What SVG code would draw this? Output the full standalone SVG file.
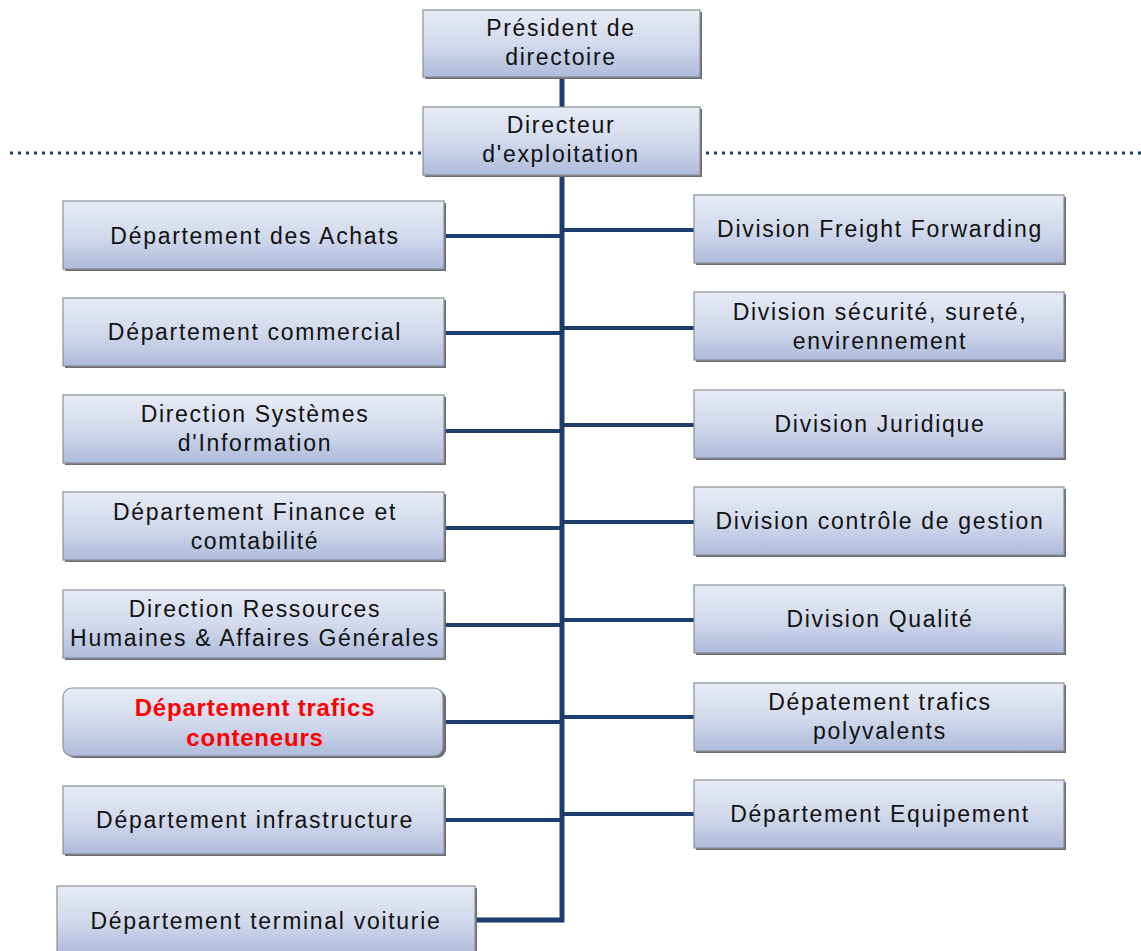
<svg xmlns="http://www.w3.org/2000/svg" width="1141" height="951" viewBox="0 0 1141 951">
  <defs>
    <linearGradient id="boxFill" x1="0" y1="0" x2="0" y2="1">
      <stop offset="0" stop-color="#e7ebf5"/>
      <stop offset="0.5" stop-color="#d3daec"/>
      <stop offset="1" stop-color="#adbbdb"/>
    </linearGradient>
    <style>
      .shadow { fill: #6d6d70; }
      .box { fill: url(#boxFill); stroke: #8c8f96; stroke-width: 1.2; }
      .lbl { font-family: "Liberation Sans", Arial, sans-serif; font-size: 23px; fill: #111; text-anchor: middle; letter-spacing: 1.7px; }
      .hot { font-family: "Liberation Sans", Arial, sans-serif; font-size: 24px; font-weight: bold; fill: #ff0000; text-anchor: middle; letter-spacing: 0.8px; }
      .link { fill: none; stroke: #1d3e6c; stroke-width: 4; }
      .trunk { fill: none; stroke: #1d3e6c; stroke-width: 5; }
      .dots { fill: none; stroke: #1d3e6c; stroke-width: 3; stroke-dasharray: 3 5; }
    </style>
  </defs>

  <rect width="1141" height="951" fill="#ffffff"/>

  <!-- separator line at the directeur level -->
  <g id="separator">
    <line class="dots" x1="10" y1="153" x2="430" y2="153"/>
    <line class="dots" x1="706" y1="153" x2="1141" y2="153"/>
  </g>

  <!-- connectors -->
  <g id="connectors">
    <path class="trunk" d="M562 77 V920 H476"/>
    <line class="link" x1="445" y1="236" x2="560" y2="236"/>
    <line class="link" x1="445" y1="333" x2="560" y2="333"/>
    <line class="link" x1="445" y1="431" x2="560" y2="431"/>
    <line class="link" x1="445" y1="528" x2="560" y2="528"/>
    <line class="link" x1="445" y1="625" x2="560" y2="625"/>
    <line class="link" x1="445" y1="722" x2="560" y2="722"/>
    <line class="link" x1="445" y1="820" x2="560" y2="820"/>
    <line class="link" x1="564" y1="230" x2="694" y2="230"/>
    <line class="link" x1="564" y1="328" x2="694" y2="328"/>
    <line class="link" x1="564" y1="425" x2="694" y2="425"/>
    <line class="link" x1="564" y1="522" x2="694" y2="522"/>
    <line class="link" x1="564" y1="620" x2="694" y2="620"/>
    <line class="link" x1="564" y1="717" x2="694" y2="717"/>
    <line class="link" x1="564" y1="814" x2="694" y2="814"/>
  </g>

  <!-- top of the hierarchy -->
  <g id="president">
    <rect class="shadow" x="425" y="12" width="277" height="67"/>
    <rect class="box" x="423" y="10" width="277" height="67"/>
    <text class="lbl" x="561" y="36">Président de</text>
    <text class="lbl" x="561" y="65">directoire</text>
  </g>
  <g id="directeur">
    <rect class="shadow" x="425" y="109" width="277" height="68"/>
    <rect class="box" x="423" y="107" width="277" height="68"/>
    <text class="lbl" x="561" y="133">Directeur</text>
    <text class="lbl" x="561" y="162">d'exploitation</text>
  </g>

  <!-- left column -->
  <g id="achats">
    <rect class="shadow" x="65" y="203" width="381" height="68"/>
    <rect class="box" x="63" y="201" width="381" height="68"/>
    <text class="lbl" x="255" y="244">Département des Achats</text>
  </g>
  <g id="commercial">
    <rect class="shadow" x="65" y="300" width="381" height="68"/>
    <rect class="box" x="63" y="298" width="381" height="68"/>
    <text class="lbl" x="255" y="340">Département commercial</text>
  </g>
  <g id="dsi">
    <rect class="shadow" x="65" y="397" width="381" height="68"/>
    <rect class="box" x="63" y="395" width="381" height="68"/>
    <text class="lbl" x="255" y="422">Direction Systèmes</text>
    <text class="lbl" x="255" y="451">d'Information</text>
  </g>
  <g id="finance">
    <rect class="shadow" x="65" y="494" width="381" height="68"/>
    <rect class="box" x="63" y="492" width="381" height="68"/>
    <text class="lbl" x="255" y="520">Département Finance et</text>
    <text class="lbl" x="255" y="549">comtabilité</text>
  </g>
  <g id="rh">
    <rect class="shadow" x="65" y="592" width="381" height="68"/>
    <rect class="box" x="63" y="590" width="381" height="68"/>
    <text class="lbl" x="255" y="617">Direction Ressources</text>
    <text class="lbl" x="255" y="646" letter-spacing="0.6">Humaines &amp; Affaires Générales</text>
  </g>
  <g id="conteneurs">
    <rect class="shadow" x="66" y="690" width="380" height="68" rx="9"/>
    <rect class="box" x="63" y="688" width="380" height="68" rx="9"/>
    <text class="hot" x="255" y="716">Département trafics</text>
    <text class="hot" x="255" y="746">conteneurs</text>
  </g>
  <g id="infrastructure">
    <rect class="shadow" x="65" y="788" width="381" height="68"/>
    <rect class="box" x="63" y="786" width="381" height="68"/>
    <text class="lbl" x="255" y="828">Département infrastructure</text>
  </g>
  <g id="voiturie">
    <rect class="shadow" x="59" y="888" width="418" height="68"/>
    <rect class="box" x="57" y="886" width="418" height="68"/>
    <text class="lbl" x="266" y="929">Département terminal voiturie</text>
  </g>

  <!-- right column -->
  <g id="freight">
    <rect class="shadow" x="696" y="197" width="370" height="68"/>
    <rect class="box" x="694" y="195" width="370" height="68"/>
    <text class="lbl" x="880" y="237">Division Freight Forwarding</text>
  </g>
  <g id="securite">
    <rect class="shadow" x="696" y="294" width="370" height="68"/>
    <rect class="box" x="694" y="292" width="370" height="68"/>
    <text class="lbl" x="880" y="320">Division sécurité, sureté,</text>
    <text class="lbl" x="880" y="349">envirennement</text>
  </g>
  <g id="juridique">
    <rect class="shadow" x="696" y="392" width="370" height="68"/>
    <rect class="box" x="694" y="390" width="370" height="68"/>
    <text class="lbl" x="880" y="432">Division Juridique</text>
  </g>
  <g id="controle">
    <rect class="shadow" x="696" y="489" width="370" height="68"/>
    <rect class="box" x="694" y="487" width="370" height="68"/>
    <text class="lbl" x="880" y="529">Division contrôle de gestion</text>
  </g>
  <g id="qualite">
    <rect class="shadow" x="696" y="587" width="370" height="68"/>
    <rect class="box" x="694" y="585" width="370" height="68"/>
    <text class="lbl" x="880" y="627">Division Qualité</text>
  </g>
  <g id="polyvalents">
    <rect class="shadow" x="696" y="685" width="370" height="68"/>
    <rect class="box" x="694" y="683" width="370" height="68"/>
    <text class="lbl" x="880" y="710">Dépatement trafics</text>
    <text class="lbl" x="880" y="739">polyvalents</text>
  </g>
  <g id="equipement">
    <rect class="shadow" x="696" y="782" width="370" height="68"/>
    <rect class="box" x="694" y="780" width="370" height="68"/>
    <text class="lbl" x="880" y="822">Département Equipement</text>
  </g>
</svg>
